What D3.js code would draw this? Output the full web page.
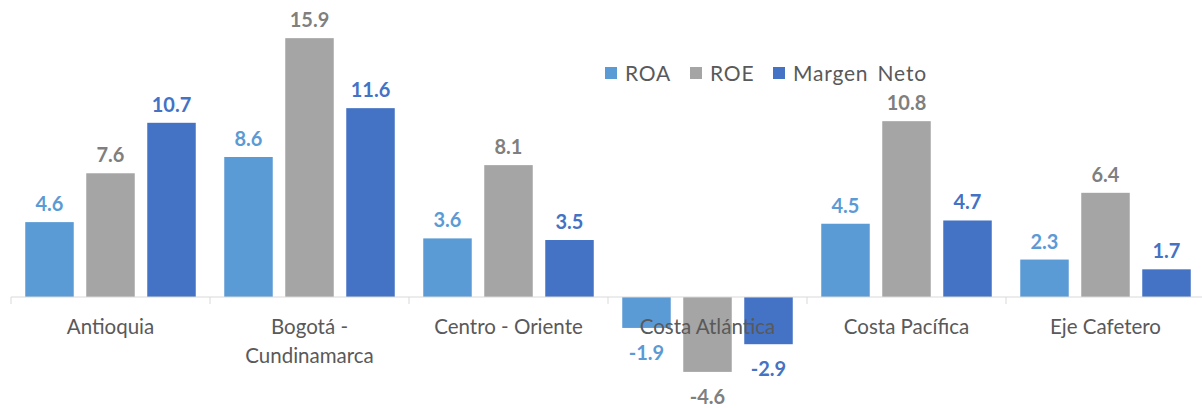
<!DOCTYPE html>
<html>
<head>
<meta charset="utf-8">
<script src="https://cdn.jsdelivr.net/npm/d3@7"></script>
<style>
  body { margin: 0; background: #fff; }
  svg { display: block; font-family: Lato, "Open Sans", sans-serif; }
</style>
</head>
<body>
<svg id="chart" width="1202" height="408"></svg>
<script>
// data
var categories = ["Antioquia", "Bogotá -\nCundinamarca", "Centro - Oriente", "Costa Atlántica", "Costa Pacífica", "Eje Cafetero"];
var seriesNames = ["ROA", "ROE", "Margen Neto"];
var roa = [4.6, 8.6, 3.6, -1.9, 4.5, 2.3];
var roe = [7.6, 15.9, 8.1, -4.6, 10.8, 6.4];
var margen = [10.7, 11.6, 3.5, -2.9, 4.7, 1.7];

var barColor = ["#5B9BD5", "#A5A5A5", "#4472C4"];
var labelColor = ["#5B9BD5", "#7F7F7F", "#4472C4"];

var svg = d3.select("#chart");

var x0 = d3.scaleBand()
	.domain(categories)
	.range([11, 11 + 6 * 199]);

var x1 = d3.scaleBand()
	.domain(seriesNames)
	.range([14.25, 184.75])
	.paddingInner(0.205);

// zero at y=297, ~16.3px per unit
var y = d3.scaleLinear()
	.domain([-6, 18])
	.range([297 + 6 * 16.28, 297 - 18 * 16.28]);

var rows = categories.map(function(c, i){
	return {cat: c, vals: [roa[i], roe[i], margen[i]]};
});

// bars
var groups = svg.selectAll("g.cat")
	.data(rows)
	.enter().append("g")
	.attr("class", "cat")
	.attr("transform", function(d){ return "translate(" + x0(d.cat) + ",0)"; });

groups.selectAll("rect")
	.data(function(d){ return d.vals.map(function(v, k){ return {k: k, v: v}; }); })
	.enter().append("rect")
	.attr("x", function(d){ return x1(seriesNames[d.k]); })
	.attr("width", x1.bandwidth())
	.attr("y", function(d){ return Math.min(y(d.v), y(0)); })
	.attr("height", function(d){ return Math.abs(y(d.v) - y(0)); })
	.style("fill", function(d){ return barColor[d.k]; });

// axis line + ticks
var axis = svg.append("g");
axis.append("line")
	.attr("x1", x0.range()[0]).attr("x2", 1202)
	.attr("y1", y(0)).attr("y2", y(0))
	.style("stroke", "#D9D9D9").style("stroke-width", 1);
axis.selectAll("line.tk")
	.data(categories)
	.enter().append("line")
	.attr("class", "tk")
	.attr("x1", function(d){ return x0(d); })
	.attr("x2", function(d){ return x0(d); })
	.attr("y1", y(0)).attr("y2", y(0) + 7)
	.style("stroke", "#D9D9D9").style("stroke-width", 1);

// value labels (plain hyphen for negatives, like the original)
groups.selectAll("text.val")
	.data(function(d){ return d.vals.map(function(v, k){ return {k: k, v: v}; }); })
	.enter().append("text")
	.attr("class", "val")
	.attr("x", function(d){ return x1(seriesNames[d.k]) + x1.bandwidth() / 2; })
	.attr("y", function(d){ return d.v >= 0 ? y(d.v) - 11 : y(d.v) + 32; })
	.attr("text-anchor", "middle")
	.style("font-size", "20px")
	.style("font-weight", "bold")
	.style("fill", function(d){ return labelColor[d.k]; })
	.text(function(d){ return d.v.toFixed(1); });

// category labels
var catLab = svg.selectAll("text.catlab")
	.data(categories)
	.enter().append("text")
	.attr("class", "catlab")
	.attr("text-anchor", "middle")
	.style("font-size", "20.5px")
	.style("fill", "#595959");
catLab.each(function(d){
	var t = d3.select(this);
	d.split("\n").forEach(function(line, i){
		t.append("tspan")
			.attr("x", x0(d) + x0.bandwidth() / 2)
			.attr("y", 334 + i * 29)
			.text(line);
	});
});

// legend
var legendX = [605, 690, 773];
var leg = svg.selectAll("g.leg")
	.data(seriesNames)
	.enter().append("g")
	.attr("class", "leg")
	.attr("transform", function(d, i){ return "translate(" + legendX[i] + ",0)"; });
leg.append("rect")
	.attr("x", 0).attr("y", 67)
	.attr("width", 12).attr("height", 12)
	.style("fill", function(d, i){ return barColor[i]; });
leg.append("text")
	.attr("x", 20).attr("y", 81)
	.style("font-size", "21px")
	.style("letter-spacing", "0.8px")
	.style("word-spacing", "3px")
	.style("fill", "#595959")
	.text(function(d){ return d; });
</script>
</body>
</html>
